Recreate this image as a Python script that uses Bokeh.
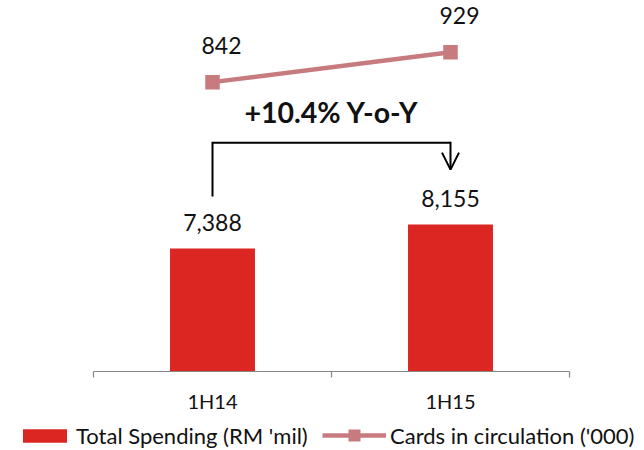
from bokeh.plotting import figure
from bokeh.layouts import column
from bokeh.models import (Range1d, FixedTicker, Legend, LegendItem, Arrow, OpenHead,
                          ColumnDataSource, LinearAxis)
from bokeh.embed import file_html
from bokeh.resources import INLINE
from bokeh.core.properties import value

# --- data -------------------------------------------------------------
periods = ["1H14", "1H15"]
spending = [7388, 8155]          # Total Spending (RM 'mil)
cards = [842, 929]               # Cards in circulation ('000)
spending_labels = ["7,388", "8,155"]
cards_labels = ["842", "929"]
growth_text = "+10.4% Y-o-Y"
series_names = ["Total Spending (RM 'mil)", "Cards in circulation ('000)"]

FONT = "Lato"
TEXT = "#111111"
BAR_RED = "#DC2622"
LINE_PINK = "#C87B7E"
AXIS_GREY = "#868686"
Y_MIN, Y_MAX = 3435, 15196
CARDS_MAX = 1065

# horizontal layout: each period slot is 238 px wide, axis starts 93 px in
SLOT_PX, LEFT_PX, RIGHT_PX = 238, 93, 75
n = len(periods)
xs = [i + 0.5 for i in range(n)]      # slot centres
x_lo = -LEFT_PX / SLOT_PX
x_hi = n + RIGHT_PX / SLOT_PX

p = figure(width=644, height=415, output_backend="svg", toolbar_location=None,
           x_range=Range1d(x_lo, x_hi), y_range=Range1d(Y_MIN, Y_MAX),
           x_axis_location=None, y_axis_location=None,
           min_border_left=0, min_border_right=0, min_border_top=5,
           min_border_bottom=42)
p.extra_y_ranges = {"cards": Range1d(0, CARDS_MAX)}
p.outline_line_color = None
p.grid.visible = False

# bottom axis: tick marks on slot boundaries, labels under slot centres
xaxis = LinearAxis(
    bounds=(0, n),
    ticker=FixedTicker(ticks=xs, minor_ticks=list(range(n + 1))),
    major_label_overrides={x: lab for x, lab in zip(xs, periods)},
    axis_line_color=AXIS_GREY, axis_line_width=1.2,
    major_tick_line_color=None, major_tick_out=0, major_tick_in=0,
    minor_tick_line_color=AXIS_GREY, minor_tick_line_width=1.2,
    minor_tick_out=6, minor_tick_in=0,
    major_label_text_font=FONT, major_label_text_font_size="20px",
    major_label_text_color=TEXT, major_label_standoff=11,
)
p.add_layout(xaxis, "below")

# spending bars
src = ColumnDataSource(dict(x=xs, spend=spending, spend_lab=spending_labels,
                            cards=cards, cards_lab=cards_labels))
p.vbar(x="x", top="spend", bottom=Y_MIN, width=0.357, source=src,
       fill_color=BAR_RED, line_color=None)
p.text(x="x", y="spend", text="spend_lab", source=src, text_align="center",
       text_baseline="alphabetic", y_offset=-26, text_font=value(FONT),
       text_font_size="23px", text_color=TEXT)

# cards line on the secondary scale
p.line(x="x", y="cards", source=src, y_range_name="cards",
       line_color=LINE_PINK, line_width=4.5)
p.scatter(x="x", y="cards", source=src, y_range_name="cards", marker="square",
          size=14.5, fill_color=LINE_PINK, line_color=None)
p.text(x="x", y="cards", text="cards_lab", source=src, y_range_name="cards",
       text_align="center", text_baseline="alphabetic", x_offset=9, y_offset=-37,
       text_font=value(FONT), text_font_size="23px", text_color=TEXT)

# growth bracket from the first bar to the second
bracket_top = 10786
p.line(x=[xs[0], xs[0], xs[1]], y=[9060, bracket_top, bracket_top],
       line_color="black", line_width=2, line_join="miter")
p.add_layout(Arrow(x_start=xs[1], y_start=bracket_top + 30, x_end=xs[1], y_end=9923,
                   line_color="black", line_width=2,
                   end=OpenHead(size=17, line_color="black", line_width=2)))
p.text(x=[sum(xs) / 2], y=[11425], text=[growth_text], text_align="center",
       text_baseline="alphabetic", y_offset=-11, text_font=value(FONT),
       text_font_size="28.5px", text_font_style="bold", text_color=TEXT)

# legend strip under the chart; its key renderers sit outside the visible range
lg = figure(width=644, height=35, output_backend="svg", toolbar_location=None,
            x_range=Range1d(0, 1), y_range=Range1d(0, 1),
            x_axis_location=None, y_axis_location=None, min_border=0)
lg.outline_line_color = None
lg.grid.visible = False
key_bar = lg.vbar(x=[-5], top=[-5], bottom=-6, width=0.1,
                  fill_color=BAR_RED, line_color=None)
key_line = lg.line(x=[-5, -4], y=[-5, -5], line_color=LINE_PINK, line_width=4.5)
key_mark = lg.scatter(x=[-5], y=[-5], marker="square", size=14.5,
                      fill_color=LINE_PINK, line_color=None)

legend_style = dict(orientation="horizontal", label_text_font=FONT,
                    label_text_font_size="22px", label_text_color=TEXT,
                    label_height=30, label_standoff=4, padding=0, margin=0,
                    border_line_color=None, background_fill_alpha=0)
# one key per legend so the bar swatch and the line/marker key get their own sizes
lg.add_layout(Legend(items=[LegendItem(label=value(series_names[0]), renderers=[key_bar])],
                     location=(17, 0), glyph_width=55, glyph_height=17, **legend_style))
lg.add_layout(Legend(items=[LegendItem(label=value(series_names[1]),
                                       renderers=[key_line, key_mark])],
                     location=(322, 0), glyph_width=64, glyph_height=30, **legend_style))

layout = column(p, lg, spacing=0)
open("out.html", "w").write(file_html(layout, INLINE))
